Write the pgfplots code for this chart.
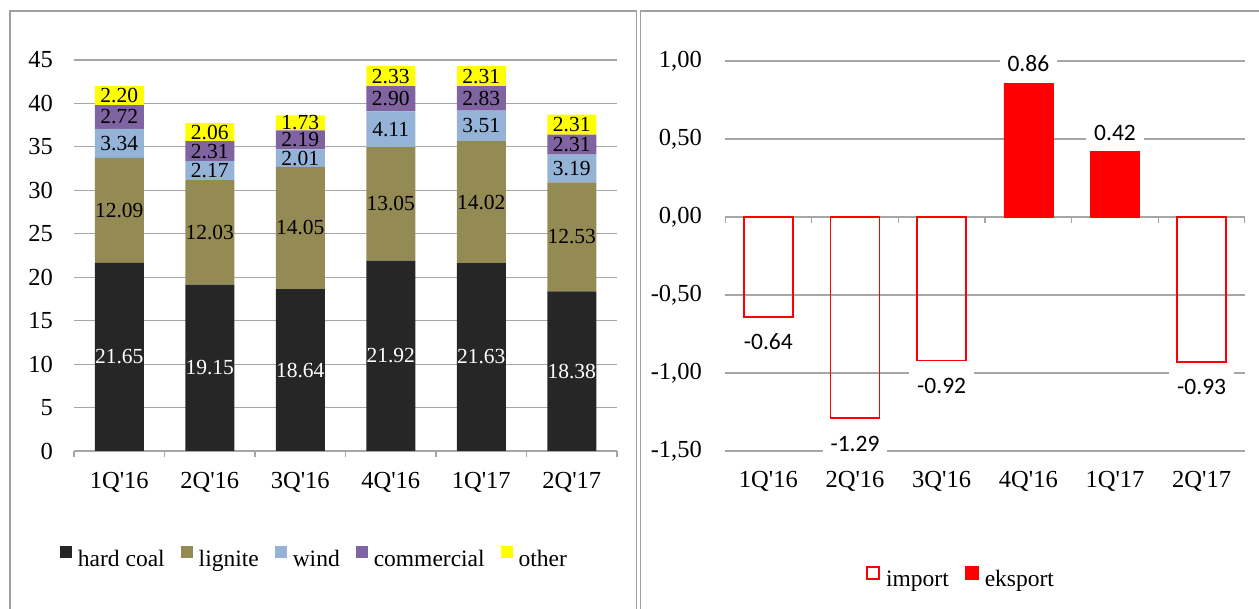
\documentclass[border=0pt]{standalone}
\usepackage{fontspec}
\setmainfont{Liberation Serif}
\newfontfamily\carlito{Carlito}
\usepackage{pgfplots}
\usepackage{pgfplotstable}
\pgfplotsset{compat=1.18}

\definecolor{hardcoal}{HTML}{262626}
\definecolor{lignite}{HTML}{948A54}
\definecolor{wind}{HTML}{95B3D7}
\definecolor{commercial}{HTML}{8064A2}
\definecolor{other}{HTML}{FFFF00}
\definecolor{gridgray}{HTML}{A6A6A6}
\definecolor{framegray}{HTML}{A0A0A0}

% generation by source, quarterly
\pgfplotstableread{
x hc    lig   wind com  oth
0 21.65 12.09 3.34 2.72 2.20
1 19.15 12.03 2.17 2.31 2.06
2 18.64 14.05 2.01 2.19 1.73
3 21.92 13.05 4.11 2.90 2.33
4 21.63 14.02 3.51 2.83 2.31
5 18.38 12.53 3.19 2.31 2.31
}\gen

% cross-border balance
\pgfplotstableread{
x val
0 -0.64
1 -1.29
2 -0.92
5 -0.93
}\imports
\pgfplotstableread{
x val
3 0.86
4 0.42
}\exports

\pgfplotsset{
  panel/.style={
    scale only axis,
    xmin=-0.5, xmax=5.5,
    xtick={0,...,5},
    xticklabels={1Q\textquotesingle16,2Q\textquotesingle16,3Q\textquotesingle16,4Q\textquotesingle16,1Q\textquotesingle17,2Q\textquotesingle17},
    major tick length=0pt,
    minor tick length=6pt,
    tick align=outside,
    ytick style={draw=none},
    minor tick style={gridgray, line width=1.2pt},
    ymajorgrids,
    grid style={gridgray, line width=1.2pt},
    axis x line*=bottom,
    axis y line*=left,
    y axis line style={draw=none},
    x axis line style={gridgray, line width=1.2pt, -},
    tick label style={font=\fontsize{24.5}{24.5}\selectfont, inner sep=0pt},
    /pgf/number format/assume math mode=true,
    legend columns=-1,
    legend style={draw=none, fill=none, anchor=center,
      font=\fontsize{23.5}{23.5}\selectfont,
      nodes={inner sep=0pt},
      /tikz/every odd column/.append style={column sep=6pt},
      /tikz/every even column/.append style={column sep=16pt}},
  },
  seglabel/.style={draw=none, mark=none, point meta=explicit,
    nodes near coords={\pgfmathprintnumber[fixed,fixed zerofill,precision=2]{\pgfplotspointmeta}},
    every node near coord/.append style={anchor=center, inner sep=0pt,
      font=\fontsize{21.5}{21.5}\selectfont}},
}

\begin{document}
\begin{tikzpicture}
\useasboundingbox (0pt,0pt) rectangle (1259pt,609pt);
\clip (0pt,0pt) rectangle (1259pt,609pt);

% panel frames
\draw[framegray, line width=1.3pt] (10pt,-10pt) rectangle (636.5pt,598pt);
\draw[framegray, line width=1.3pt] (640.5pt,-10pt) rectangle (1275pt,598pt);

% ---- left: stacked generation ----
\begin{axis}[panel,
  at={(74pt,158pt)}, anchor=south west,
  width=543pt, height=391pt,
  ybar stacked, bar width=49pt,
  ymin=0, ymax=45, ytick={0,5,...,45},
  minor xtick={-0.5,0.5,...,5.5},
  xticklabel shift=21pt, yticklabel shift=21pt,
  legend image code/.code={\fill[#1] (0pt,1pt) rectangle (12pt,13pt);},
  legend style={at={(axis description cs:0.441,-0.271)}},
]
\addplot[fill=hardcoal, draw=none] table[x=x, y=hc]{\gen};
\addplot[fill=lignite, draw=none] table[x=x, y=lig]{\gen};
\addplot[fill=wind, draw=none] table[x=x, y=wind]{\gen};
\addplot[fill=commercial, draw=none] table[x=x, y=com]{\gen};
\addplot[fill=other, draw=none] table[x=x, y=oth]{\gen};
\legend{hard coal, lignite, wind, commercial, other}
\end{axis}

% value labels at the middle of each segment
\begin{axis}[
  at={(74pt,158pt)}, anchor=south west,
  scale only axis, width=543pt, height=391pt,
  xmin=-0.5, xmax=5.5, ymin=0, ymax=45,
  hide axis, clip=false,
  /pgf/number format/assume math mode=true,
]
\addplot[seglabel, every node near coord/.append style={text=white}]
  table[x=x, y expr=\thisrow{hc}/2, meta=hc]{\gen};
\addplot[seglabel]
  table[x=x, y expr=\thisrow{hc}+\thisrow{lig}/2, meta=lig]{\gen};
\addplot[seglabel]
  table[x=x, y expr=\thisrow{hc}+\thisrow{lig}+\thisrow{wind}/2, meta=wind]{\gen};
\addplot[seglabel]
  table[x=x, y expr=\thisrow{hc}+\thisrow{lig}+\thisrow{wind}+\thisrow{com}/2, meta=com]{\gen};
\addplot[seglabel]
  table[x=x, y expr=\thisrow{hc}+\thisrow{lig}+\thisrow{wind}+\thisrow{com}+\thisrow{oth}/2, meta=oth]{\gen};
\end{axis}

% ---- right: import / export ----
\begin{axis}[panel,
  at={(725pt,158pt)}, anchor=south west,
  width=520pt, height=390pt,
  ybar, bar width=49pt, bar shift=0pt,
  ymin=-1.5, ymax=1, ytick={-1.5,-1,...,1},
  yticklabel={\pgfmathprintnumber[fixed,fixed zerofill,precision=2,use comma]{\tick}},
  x axis line style={draw=none},
  xticklabel shift=20pt, yticklabel shift=23pt,
  point meta=y,
  nodes near coords={\pgfmathprintnumber[fixed,fixed zerofill,precision=2]{\pgfplotspointmeta}},
  every node near coord/.append style={font=\carlito\fontsize{23.5}{23.5}\selectfont,
    fill=white, inner xsep=8pt, inner ysep=5pt, text depth=6pt, text height=27pt},
  legend image code/.code={\draw[#1, line width=2pt] (1pt,1pt) rectangle (13pt,13pt);},
  legend style={at={(axis description cs:0.452,-0.323)}},
]
\draw[gridgray, line width=1.2pt] (axis cs:-0.5,0) -- (axis cs:5.5,0);
\pgfplotsinvokeforeach{-0.5,0.5,1.5,2.5,3.5,4.5,5.5}{
  \draw[gridgray, line width=1.2pt] (axis cs:#1,0) -- ++(0pt,-6pt);
}
\addplot[draw=red, fill=none, line width=1.8pt] table[x=x, y=val]{\imports};
\addplot[draw=red, fill=red] table[x=x, y=val]{\exports};
\legend{import, eksport}
\end{axis}
\end{tikzpicture}
\end{document}
